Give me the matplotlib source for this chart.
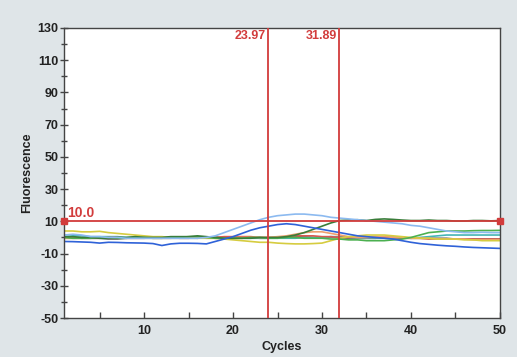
import matplotlib
matplotlib.use("Agg")
import matplotlib.pyplot as plt
from matplotlib.ticker import MultipleLocator

plt.rcParams['font.family'] = ['Liberation Sans', 'DejaVu Sans']
plt.rcParams['axes.unicode_minus'] = False

cycles = list(range(1, 51))

dark_blue = [-2.5, -2.6, -2.8, -3.0, -3.5, -3.0, -3.1, -3.3, -3.4, -3.5,
             -3.8, -5.0, -4.0, -3.6, -3.6, -3.7, -4.0, -2.5, -1.0, 0.5,
             2.5, 4.5, 6.0, 7.0, 8.0, 8.5, 8.0, 7.0, 6.0, 5.0,
             4.0, 3.0, 2.0, 1.0, 0.5, 0.0, -0.5, -1.0, -2.0, -3.0,
             -3.8, -4.3, -4.8, -5.2, -5.5, -5.9, -6.2, -6.4, -6.6, -6.8]

light_blue = [1.5, 2.0, 1.5, 0.5, 0.5, 0.0, 0.0, -0.5, -0.5, -0.5,
              -0.5, -0.5, -0.5, -0.5, -0.5, -0.5, 0.0, 1.0, 3.0, 5.0,
              7.0, 9.0, 11.0, 12.5, 13.5, 14.0, 14.5, 14.5, 14.0, 13.5,
              12.5, 12.0, 11.5, 11.0, 10.5, 10.0, 9.5, 9.0, 8.5, 7.5,
              7.0, 6.0, 5.0, 4.0, 3.5, 3.0, 3.0, 3.2, 3.0, 3.0]

green_rise = [0.5, 0.5, 0.0, 0.0, -0.5, -0.5, 0.0, 0.0, 0.5, 0.0,
              0.0, 0.0, 0.5, 0.5, 0.5, 1.0, 0.5, 0.0, -0.5, -0.5,
              -0.5, -0.5, 0.0, 0.0, 0.0, 0.5, 1.5, 3.0, 5.0, 7.0,
              9.0, 10.5, 10.8, 11.0, 10.5, 11.2, 11.5, 11.2, 10.8, 10.5,
              10.5, 10.8, 10.5, 10.5, 10.2, 10.2, 10.5, 10.5, 10.3, 10.5]

green_late = [0.0, -0.5, -0.5, -0.5, 0.0, 0.0, -0.5, -0.5, 0.0, 0.0,
              -0.5, -0.5, 0.0, 0.0, 0.5, 0.5, 0.0, -0.5, -0.5, -0.5,
              -0.5, 0.0, 0.0, -0.5, -0.5, 0.0, 0.0, -0.5, -0.5, -0.5,
              -1.0, -1.0, -1.5, -1.5, -2.0, -2.0, -2.0, -1.5, -1.0, 0.0,
              1.5, 3.0, 3.5, 4.0, 4.0, 4.0, 4.2, 4.3, 4.3, 4.4]

yellow = [4.0, 4.0, 3.5, 3.5, 3.8, 3.0, 2.5, 2.0, 1.5, 1.0,
          0.5, 0.5, 0.0, 0.0, 0.0, -0.5, -0.5, -0.5, -1.0, -1.5,
          -2.0, -2.5, -3.0, -3.0, -3.5, -3.8, -4.0, -4.0, -3.8, -3.5,
          -2.0, -0.5, 0.5, 1.0, 1.5, 1.5, 1.5, 1.0, 0.5, 0.0,
          -0.5, -0.5, -1.0, -1.0, -1.0, -1.5, -1.5, -2.0, -2.0, -2.0]

orange = [-0.5, -0.5, -0.5, 0.0, 0.0, -0.5, -0.5, -0.5, 0.0, 0.0,
          -0.5, -0.5, -0.5, 0.0, 0.0, 0.0, -0.5, -0.5, -0.5, 0.0,
          0.0, 0.0, 0.0, 0.0, 0.5, 1.0, 2.0, 3.0, 3.5, 3.5,
          2.5, 1.5, 0.5, 0.0, 0.0, 0.5, 0.5, 0.0, 0.0, -0.5,
          -0.5, -0.5, -1.0, -1.0, -1.0, -1.0, -1.5, -1.5, -1.5, -1.5]

red = [0.0, 0.0, -0.5, -0.5, -0.5, 0.0, 0.0, -0.5, -0.5, -0.5,
       0.0, 0.0, 0.0, -0.5, -0.5, 0.0, 0.0, 0.0, 0.5, 0.5,
       0.5, 0.5, 0.0, 0.0, 0.0, 0.5, 1.0, 1.0, 1.0, 0.5,
       0.5, 0.0, 0.0, 0.0, 0.0, 0.0, 0.0, 0.0, -0.5, -0.5,
       -0.5, -1.0, -1.0, -1.0, -1.0, -1.0, -1.0, -1.0, -1.0, -1.0]

teal = [0.5, 1.0, 1.0, 0.5, 0.5, 0.5, 0.5, 0.0, 0.0, 0.0,
        0.0, 0.0, 0.0, 0.0, 0.0, 0.0, 0.0, 0.0, 0.0, 0.0,
        -0.5, -0.5, -0.5, -0.5, -0.5, -0.5, -0.5, 0.0, 0.0, 0.0,
        0.5, 0.5, 0.0, -0.5, -0.5, -0.5, -0.5, -0.5, -0.5, -0.5,
        0.0, 0.5, 1.0, 1.5, 1.5, 1.5, 1.5, 1.5, 1.5, 1.5]

gray = [-0.5, -0.5, -0.5, -0.5, -0.5, -1.0, -1.0, -0.5, -0.5, -0.5,
        -0.5, -0.5, -0.5, -0.5, -0.5, -0.5, 0.0, 0.0, 0.0, 0.0,
        0.0, 0.0, -0.5, -0.5, 0.0, 0.5, 0.5, 0.5, 0.0, 0.0,
        0.0, 0.0, -0.5, -0.5, -0.5, -0.5, 0.0, 0.0, 0.0, -0.5,
        -0.5, -0.5, -0.5, -0.5, -1.0, -1.0, -1.0, -1.0, -1.0, -1.0]

series = [
    (gray, '#6a6a6a'),
    (teal, '#45b5b5'),
    (red, '#d85a50'),
    (orange, '#eea070'),
    (yellow, '#d6cc40'),
    (green_late, '#4cb050'),
    (green_rise, '#3a7d3a'),
    (light_blue, '#8cbaf0'),
    (dark_blue, '#2f62d8'),
]

threshold = 10.0
ct_values = [23.97, 31.89]
x_ticks = [10, 20, 30, 40, 50]
y_ticks = [-50, -30, -10, 10, 30, 50, 70, 90, 110, 130]

bg = '#dfe5e8'
thr_color = '#d23c3c'

fig = plt.figure(figsize=(5.17, 3.57), dpi=100, facecolor=bg)
ax = fig.add_axes([0.1238, 0.1092, 0.967 - 0.1238, 0.9216 - 0.1092])
ax.set_facecolor('white')

for vals, col in series:
    ax.plot(cycles, vals, color=col, lw=1.2)

ax.plot([cycles[0], cycles[-1]], [threshold, threshold], color=thr_color, lw=1.3,
        marker='s', markersize=5, zorder=5, clip_on=False)
for ct in ct_values:
    ax.axvline(ct, color=thr_color, lw=1.3, zorder=5)
    ax.text(ct - 0.25, 128.5, f"{ct:.2f}", color=thr_color, fontsize=9,
            fontweight='bold', ha='right', va='top')
ax.text(1.3, threshold + 1.0, f"{threshold:.1f}", color=thr_color, fontsize=10,
        fontweight='bold', ha='left', va='bottom')

ax.set_xlim(1, 50)
ax.set_ylim(-50, 130)
ax.set_xticks(x_ticks)
ax.set_yticks(y_ticks)
ax.xaxis.set_minor_locator(MultipleLocator(5))
ax.yaxis.set_minor_locator(MultipleLocator(10))
ax.tick_params(axis='x', which='both', direction='in', length=4, width=1, colors='#444444',
               labelcolor='#222222', labelsize=9, pad=5)
ax.tick_params(axis='y', which='major', direction='inout', length=6, width=1, colors='#444444',
               labelcolor='#222222', labelsize=9, pad=1)
ax.tick_params(axis='y', which='minor', direction='inout', length=4, width=1, colors='#444444')
for lab in ax.get_xticklabels() + ax.get_yticklabels():
    lab.set_fontweight('bold')
for sp in ax.spines.values():
    sp.set_color('#444444')
    sp.set_linewidth(1.0)

ax.set_xlabel('Cycles', fontsize=9, fontweight='bold', color='#222222', labelpad=3)
ax.set_ylabel('Fluorescence', fontsize=9, fontweight='bold', color='#222222', labelpad=3)

fig.savefig('out.png', dpi=100, facecolor=bg)
